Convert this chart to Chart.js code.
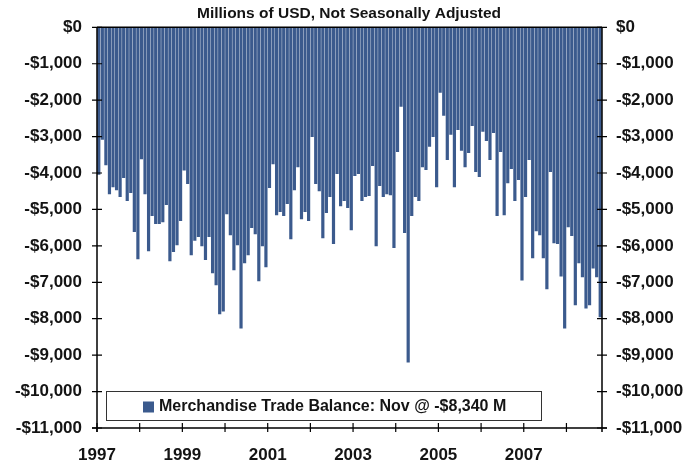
<!DOCTYPE html>
<html>
<head>
<meta charset="utf-8">
<script src="https://cdn.jsdelivr.net/npm/chart.js@4.4.0/dist/chart.umd.min.js"></script>
<style>
  html, body { margin: 0; padding: 0; background: #fff; }
  #wrap { width: 698px; height: 463px; position: relative; }
</style>
</head>
<body>
<div id="wrap"><canvas id="c"></canvas></div>
<script>
// Monthly merchandise trade balance, millions of USD (Jan 1997 onward)
const startYear = 1997;
const monthCount = 142;
const tradeBalance = [
  -4050, -3090, -3790, -4580, -4390, -4470, -4660, -4140, -4770, -4550, -5620, -6370, // 1997
  -3620, -4580, -6150, -5180, -5400, -5400, -5350, -4880, -6420, -6170, -5980, -5320, // 1998
  -3930, -4300, -6260, -5860, -5760, -6010, -6390, -5760, -6750, -7080, -7880, -7800, // 1999
  -5130, -5710, -6670, -5980, -8270, -6480, -6260, -5510, -5680, -6970, -6010, -6590, // 2000
  -4410, -3760, -5160, -5070, -5180, -4850, -5820, -4470, -3840, -5270, -5070, -5320, // 2001
  -3010, -4300, -4500, -5790, -5100, -4660, -5950, -4030, -4910, -4770, -4960, -5570, // 2002
  -4080, -4030, -4770, -4660, -4630, -3810, -6010, -4360, -4660, -4580, -4610, -6060, // 2003
  -3420, -2180, -5650, -9200, -5180, -4660, -4770, -3840, -3920, -3280, -3010, -4390, // 2004
  -1800, -2430, -3640, -2950, -4390, -2820, -3390, -3840, -3450, -2710, -3970, -4110, // 2005
  -2870, -3120, -3640, -2900, -5180, -3420, -5160, -4280, -3890, -4770, -4190, -6950, // 2006
  -4660, -3640, -6340, -5600, -5710, -6340, -7190, -3970, -5930, -5950, -6840, -8270, // 2007
  -5490, -5730, -7630, -6480, -6860, -7720, -7630, -6620, -6860, -7960              // 2008
];
const yTicks = [0, -1000, -2000, -3000, -4000, -5000, -6000, -7000, -8000, -9000, -10000, -11000];
const seriesName = 'Merchandise Trade Balance: Nov @ -$8,340 M';
const titleText = 'Millions of USD, Not Seasonally Adjusted';

const labels = [];
for (let i = 0; i < monthCount; i++) {
  const yr = startYear + Math.floor(i / 12);
  const mo = (i % 12) + 1;
  labels.push(yr + '-' + String(mo).padStart(2, '0'));
}

const BAR = '#3B5A8D';
const INK = '#141414';
const FONT = '"Liberation Sans", Arial, sans-serif';

function money(v) {
  if (v === 0) return '$0';
  return '-$' + Math.abs(v).toLocaleString('en-US');
}

// frame, crossing tick marks and the boxed legend
const frame = {
  id: 'frame',
  afterDraw(chart) {
    const { ctx, chartArea: a, scales: { x, y } } = chart;
    ctx.save();
    ctx.strokeStyle = '#000';
    ctx.lineWidth = 1.5;
    ctx.beginPath();
    ctx.moveTo(a.left, a.top); ctx.lineTo(a.right, a.top);
    ctx.moveTo(a.left, a.top); ctx.lineTo(a.left, a.bottom + 4);
    ctx.moveTo(a.right, a.top); ctx.lineTo(a.right, a.bottom + 4);
    ctx.moveTo(a.left - 5, a.bottom); ctx.lineTo(a.right + 5, a.bottom);
    ctx.stroke();

    ctx.lineWidth = 1.2;
    ctx.beginPath();
    yTicks.forEach(v => {
      const py = y.getPixelForValue(v);
      ctx.moveTo(a.left - 5, py); ctx.lineTo(a.left + 5, py);
      ctx.moveTo(a.right - 5, py); ctx.lineTo(a.right + 5, py);
    });
    const half = (x.getPixelForValue(1) - x.getPixelForValue(0)) / 2;
    labels.forEach((l, i) => {
      if (l.endsWith('-01')) {
        const px = x.getPixelForValue(i) - half;
        ctx.moveTo(px, a.bottom - 5); ctx.lineTo(px, a.bottom + 4);
      }
    });
    ctx.stroke();

    // legend box
    const bx = a.left + 9.5, by = a.bottom - 36.5, bw = 435, bh = 29;
    ctx.fillStyle = '#fff';
    ctx.fillRect(bx, by, bw, bh);
    ctx.strokeStyle = '#333';
    ctx.lineWidth = 1;
    ctx.strokeRect(bx, by, bw, bh);
    ctx.fillStyle = BAR;
    ctx.fillRect(bx + 36.5, by + 10, 11, 11);
    ctx.fillStyle = INK;
    ctx.font = 'bold 16px ' + FONT;
    ctx.textBaseline = 'middle';
    ctx.textAlign = 'left';
    ctx.fillText(chart.data.datasets[0].label, bx + 52.5, by + bh / 2 + 1);
    ctx.restore();
  }
};

const tickFont = { family: FONT, size: 17, weight: 'bold' };

new Chart(document.getElementById('c'), {
  type: 'bar',
  data: {
    labels,
    datasets: [{
      label: seriesName,
      data: tradeBalance,
      backgroundColor: BAR,
      borderWidth: 0,
      barPercentage: 0.9,
      categoryPercentage: 1.0,
      yAxisID: 'y'
    }]
  },
  options: {
    responsive: true,
    maintainAspectRatio: false,
    animation: false,
    layout: { padding: 0 },
    plugins: {
      legend: { display: false },
      tooltip: { enabled: false },
      title: {
        display: true,
        text: titleText,
        color: INK,
        font: { family: FONT, size: 15.5, weight: 'bold' },
        padding: { top: 4, bottom: 4.7 }
      }
    },
    scales: {
      x: {
        offset: true,
        grid: { display: false, drawTicks: false },
        border: { display: false },
        ticks: {
          autoSkip: false,
          maxRotation: 0,
          minRotation: 0,
          padding: 17,
          labelOffset: -1.8,
          color: INK,
          font: tickFont,
          callback(v, i) {
            const l = labels[i];
            return l.endsWith('-01') && (+l.slice(0, 4) - startYear) % 2 === 0 ? l.slice(0, 4) : '';
          }
        },
        afterFit(s) { s.height = 35; }
      },
      y: {
        position: 'left',
        min: -11000,
        max: 0,
        grid: { display: false, drawTicks: false },
        border: { display: false },
        ticks: { stepSize: 1000, padding: 15, color: INK, font: tickFont, callback: money },
        afterFit(s) { s.width = 97; }
      },
      y2: {
        position: 'right',
        min: -11000,
        max: 0,
        grid: { display: false, drawTicks: false },
        border: { display: false },
        ticks: { stepSize: 1000, padding: 14, color: INK, font: tickFont, callback: money },
        afterFit(s) { s.width = 96; }
      }
    }
  },
  plugins: [frame]
});
</script>
</body>
</html>
